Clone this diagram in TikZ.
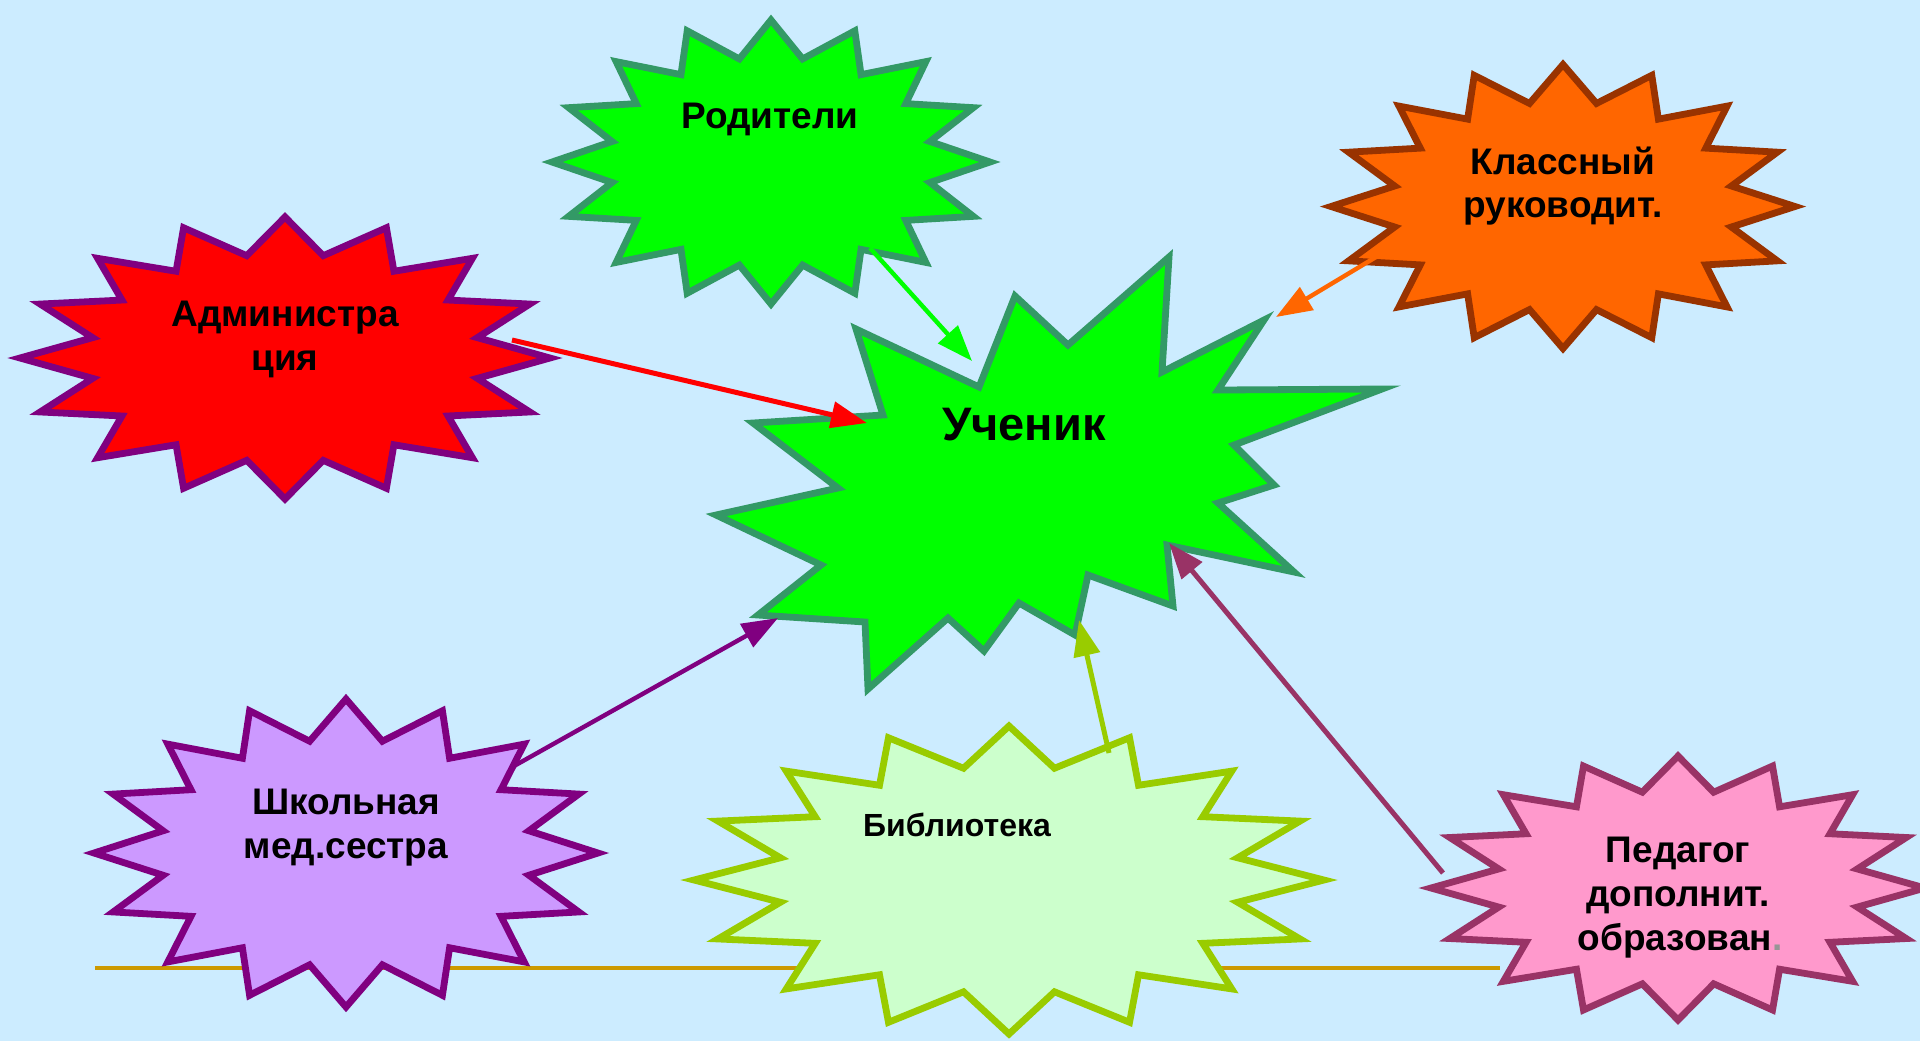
\documentclass[tikz,border=0pt]{standalone}
\usepackage{fontspec}
\setmainfont{Liberation Sans}
\usetikzlibrary{arrows.meta}
\definecolor{bgblue}{RGB}{204,236,255}
\definecolor{brightgreen}{RGB}{0,255,0}
\definecolor{seagreen}{RGB}{51,153,102}
\definecolor{pptpurple}{RGB}{128,0,128}
\definecolor{pptorange}{RGB}{255,102,0}
\definecolor{pptbrown}{RGB}{153,51,0}
\definecolor{pptlilac}{RGB}{204,153,255}
\definecolor{pptpale}{RGB}{204,255,204}
\definecolor{pptlime}{RGB}{153,204,0}
\definecolor{pptpink}{RGB}{255,153,204}
\definecolor{pptplum}{RGB}{153,51,102}
\definecolor{pptgold}{RGB}{204,153,0}
\definecolor{pptgray}{RGB}{150,150,150}
\newcommand{\mystar}[5]{%
  \draw[#5] ({#1+#3},{#2})
    \foreach \k in {0,...,14}{
      -- ({#1+0.74*#3*cos(\k*22.5+11.25)},{#2+0.74*#4*sin(\k*22.5+11.25)})
      -- ({#1+#3*cos(\k*22.5+22.5)},{#2+#4*sin(\k*22.5+22.5)})
    }
    -- ({#1+0.74*#3*cos(348.75)},{#2+0.74*#4*sin(348.75)}) -- cycle;}
\tikzset{
  starline/.style={line width=3.4pt, line join=miter, miter limit=12},
  lbl/.style={font=\fontsize{18.5}{22}\selectfont\bfseries, inner sep=0pt, anchor=base},
  biglbl/.style={font=\fontsize{23.5}{28}\selectfont\bfseries, inner sep=0pt, anchor=base},
  smalllbl/.style={font=\fontsize{16}{19}\selectfont\bfseries, inner sep=0pt, anchor=base},
  conn/.style={line width=2.2pt, -{Triangle[length=18pt,width=13pt]}}
}
\begin{document}
\begin{tikzpicture}[x=0.5pt,y=-0.5pt]
\useasboundingbox (0,0) rectangle (1920,1041);
\clip (0,0) rectangle (1920,1041);
\fill[bgblue] (0,0) rectangle (1920,1041);

% baseline rule behind the stars
\coordinate (g1) at (95,968);
\coordinate (g2) at (1500,968);
\draw[pptgold, line width=1.8pt] (g1) -- (g2);

% stars
\mystar{771}{162}{219}{142}{starline, fill=brightgreen, draw=seagreen}
\mystar{285}{358}{265}{141}{starline, fill=red, draw=pptpurple}
\mystar{1563}{206.5}{232}{142}{starline, fill=pptorange, draw=pptbrown}
\mystar{346}{853}{252}{154}{starline, fill=pptlilac, draw=pptpurple}
\mystar{1009}{880}{315}{154}{starline, fill=pptpale, draw=pptlime}
\mystar{1678}{888}{247}{132}{starline, fill=pptpink, draw=pptplum}

% central explosion
\draw[starline, fill=brightgreen, draw=seagreen]
  (856,329) -- (979,387) -- (1015,296) -- (1068,345) -- (1169,257)
  -- (1162,372) -- (1264,320) -- (1218,390) -- (1382,389) -- (1234,445)
  -- (1274,485) -- (1218,503) -- (1294,572) -- (1167,545) -- (1173,606)
  -- (1088,575) -- (1075,635) -- (1019,603) -- (984,651) -- (948,618)
  -- (868,689) -- (865,622) -- (758,615) -- (821,565) -- (716,515)
  -- (838,488) -- (753,423) -- (883,415) -- cycle;

% labels
\node[lbl] (rod) at (770,128) {Родители};
\node[lbl] (adm1) at (285,326) {Администра};
\node[lbl] (adm2) at (285,370) {ция};
\node[lbl] (kl1) at (1563,174) {Классный};
\node[lbl] (kl2) at (1563,217) {руководит.};
\node[lbl] (sh1) at (346,814) {Школьная};
\node[lbl] (sh2) at (346,858) {мед.сестра};
\node[smalllbl] (bib) at (957,836) {Библиотека};
\node[lbl] (ped1) at (1678,862) {Педагог};
\node[lbl] (ped2) at (1678,906) {дополнит.};
\node[lbl] (ped3) at (1680,950) {образован{\color{pptgray}.}};
\node[biglbl] (uch) at (1024,440) {Ученик};

% connector ends
\coordinate (rodS) at (870,248);  \coordinate (rodE) at (972,361);
\coordinate (admS) at (512,340);  \coordinate (admE) at (867,423);
\coordinate (klS) at (1376,257);  \coordinate (klE) at (1276,317);
\coordinate (shS) at (514,766);   \coordinate (shE) at (778,618);
\coordinate (bibS) at (1109,753); \coordinate (bibE) at (1079,620);
\coordinate (pedS) at (1443,873); \coordinate (pedE) at (1169,543);

\draw[conn, brightgreen] (rodS) -- (rodE);
\draw[conn, red, line width=2.5pt] (admS) -- (admE);
\draw[conn, pptorange] (klS) -- (klE);
\draw[conn, pptpurple] (shS) -- (shE);
\draw[conn, pptlime, line width=2.5pt] (bibS) -- (bibE);
\draw[conn, pptplum, line width=2.5pt] (pedS) -- (pedE);
\end{tikzpicture}
\end{document}
